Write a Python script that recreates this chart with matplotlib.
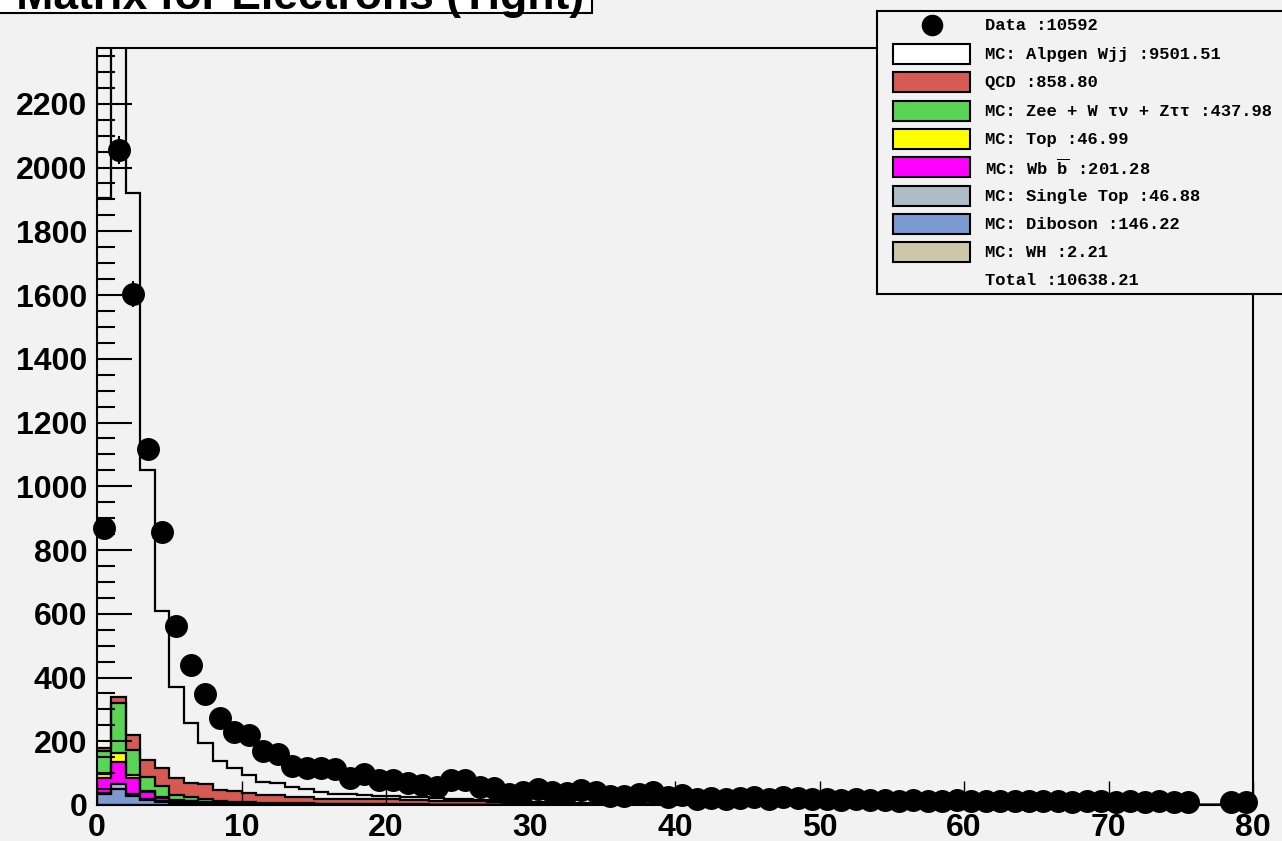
import numpy as np
import matplotlib.pyplot as plt
from matplotlib.patches import Rectangle
from matplotlib.ticker import MultipleLocator

plt.rcParams['font.family'] = ['Liberation Sans', 'DejaVu Sans']
plt.rcParams['font.weight'] = 'bold'
plt.rcParams['mathtext.fontset'] = 'custom'
plt.rcParams['mathtext.rm'] = 'Liberation Mono:bold'

# bin edges 0..80, one unit per bin
edges = np.arange(0, 81)

data = [
    869, 2055, 1603, 1117, 857, 562, 439, 348, 273, 229, 220, 169, 160, 122, 116, 116, 113, 86, 97, 78,
    78, 68, 63, 58, 80, 80, 58, 52, 36, 42, 50, 40, 37, 47, 40, 28, 28, 35, 40, 24,
    32, 18, 22, 20, 22, 25, 18, 25, 22, 18, 20, 16, 18, 15, 16, 14, 15, 14, 13, 15,
    12, 14, 12, 13, 12, 14, 12, 10, 14, 12, 10, 12, 10, 11, 10, 9, 0, 0, 10, 10]

wh = [
    1, 1, 0.5, 0.3, 0.2, 0.1, 0.1, 0, 0, 0, 0, 0, 0, 0, 0, 0, 0, 0, 0, 0,
    0, 0, 0, 0, 0, 0, 0, 0, 0, 0, 0, 0, 0, 0, 0, 0, 0, 0, 0, 0,
    0, 0, 0, 0, 0, 0, 0, 0, 0, 0, 0, 0, 0, 0, 0, 0, 0, 0, 0, 0,
    0, 0, 0, 0, 0, 0, 0, 0, 0, 0, 0, 0, 0, 0, 0, 0, 0, 0, 0, 0]

diboson = [
    33, 49, 28, 15, 10, 7, 5, 4, 3, 3, 2, 2, 2, 1.5, 1.5, 1, 1, 1, 0.8, 0.8,
    0.6, 0.6, 0.5, 0.5, 0.4, 0.4, 0.3, 0.3, 0.3, 0.2, 0.2, 0.2, 0.2, 0.1, 0.1, 0.1, 0.1, 0.1, 0.1, 0.1,
    0, 0, 0, 0, 0, 0, 0, 0, 0, 0, 0, 0, 0, 0, 0, 0, 0, 0, 0, 0,
    0, 0, 0, 0, 0, 0, 0, 0, 0, 0, 0, 0, 0, 0, 0, 0, 0, 0, 0, 0]

single_top = [
    5, 16, 5, 5, 3, 2, 2, 1, 1, 1, 1, 0.5, 0.5, 0.5, 0.4, 0.4, 0.3, 0.3, 0.3, 0.3,
    0.2, 0.2, 0.2, 0.1, 0.1, 0.1, 0.1, 0, 0, 0, 0, 0, 0, 0, 0, 0, 0, 0, 0, 0,
    0, 0, 0, 0, 0, 0, 0, 0, 0, 0, 0, 0, 0, 0, 0, 0, 0, 0, 0, 0,
    0, 0, 0, 0, 0, 0, 0, 0, 0, 0, 0, 0, 0, 0, 0, 0, 0, 0, 0, 0]

wbb = [
    45, 68, 51, 22, 10, 5, 4, 3, 2, 2, 1, 1, 1, 0.8, 0.8, 0.6, 0.5, 0.5, 0.4, 0.4,
    0.3, 0.3, 0.2, 0.2, 0.2, 0.1, 0.1, 0.1, 0, 0, 0, 0, 0, 0, 0, 0, 0, 0, 0, 0,
    0, 0, 0, 0, 0, 0, 0, 0, 0, 0, 0, 0, 0, 0, 0, 0, 0, 0, 0, 0,
    0, 0, 0, 0, 0, 0, 0, 0, 0, 0, 0, 0, 0, 0, 0, 0, 0, 0, 0, 0]

top = [
    13, 28, 10, 3, 2, 1, 1, 1, 0.5, 0.5, 0.5, 0.3, 0.3, 0.2, 0.2, 0.2, 0.2, 0.1, 0.1, 0.1,
    0, 0, 0, 0, 0, 0, 0, 0, 0, 0, 0, 0, 0, 0, 0, 0, 0, 0, 0, 0,
    0, 0, 0, 0, 0, 0, 0, 0, 0, 0, 0, 0, 0, 0, 0, 0, 0, 0, 0, 0,
    0, 0, 0, 0, 0, 0, 0, 0, 0, 0, 0, 0, 0, 0, 0, 0, 0, 0, 0, 0]

zjets = [
    71, 158, 79, 42, 33, 16, 12, 10, 6, 4, 4, 3, 3, 2, 2, 1.5, 1.5, 1.5, 1, 1,
    1, 0.8, 0.8, 0.6, 0.6, 0.5, 0.5, 0.4, 0.4, 0.3, 0.3, 0.3, 0.2, 0.2, 0.2, 0.1, 0.1, 0.1, 0.1, 0.1,
    0, 0, 0, 0, 0, 0, 0, 0, 0, 0, 0, 0, 0, 0, 0, 0, 0, 0, 0, 0,
    0, 0, 0, 0, 0, 0, 0, 0, 0, 0, 0, 0, 0, 0, 0, 0, 0, 0, 0, 0]

qcd = [
    12, 18, 47, 54, 57, 53, 46, 47, 34.5, 34.5, 30.5, 24, 26, 19, 19, 15.3, 15.5, 16.6, 16.4, 17.4,
    16, 13, 13, 10, 10, 12, 10, 10, 6, 6, 5, 5, 4, 4, 3, 3, 3, 2.5, 2.5, 2,
    2, 2, 1.8, 1.6, 1.5, 1.4, 1.3, 1.2, 1.1, 1, 1, 0.9, 0.9, 0.8, 0.8, 0.7, 0.7, 0.6, 0.6, 0.5,
    0.5, 0.5, 0.4, 0.4, 0.4, 0.3, 0.3, 0.3, 0.3, 0.2, 0.2, 0.2, 0.2, 0.2, 0.1, 0.1, 0, 0, 0.1, 0.1]

alpgen = [
    1725, 3042, 1700, 910, 494, 286, 188, 129, 91, 70, 55, 41, 35, 31, 26, 21, 16, 13, 12, 9,
    10, 11, 9, 10, 8, 5, 5, 4, 6, 5, 5, 4, 4, 3, 3, 3, 2, 2, 2, 2,
    1.8, 1.6, 1.5, 1.5, 1.3, 1.2, 1.1, 1, 1, 0.9, 0.9, 0.8, 0.8, 0.7, 0.7, 0.6, 0.6, 0.5, 0.5, 0.5,
    0.4, 0.4, 0.4, 0.3, 0.3, 0.3, 0.3, 0.2, 0.2, 0.2, 0.2, 0.2, 0.1, 0.1, 0.1, 0.1, 0, 0, 0.1, 0.1]

bg = '#f2f2f2'

# stacking order, bottom first (Alpgen is hollow in the pad)
stack = [
    (wh, '#ccc6aa'),
    (diboson, '#7d99d1'),
    (single_top, '#adbcc6'),
    (wbb, '#ff00ff'),
    (top, '#ffff00'),
    (zjets, '#59d454'),
    (qcd, '#d65a52'),
    (alpgen, bg),
]

legend_rows = [
    ('MC: Alpgen Wjj :9501.51', '#ffffff'),
    ('QCD :858.80', '#d65a52'),
    ('MC: Zee + W τν + Zττ :437.98', '#59d454'),
    ('MC: Top :46.99', '#ffff00'),
    (r'MC: Wb $\overline{\mathrm{b}}$ :201.28', '#ff00ff'),
    ('MC: Single Top :46.88', '#adbcc6'),
    ('MC: Diboson :146.22', '#7d99d1'),
    ('MC: WH :2.21', '#ccc6aa'),
]
data_label = 'Data :10592'
total_label = 'Total :10638.21'
title = 'FMatrix for Electrons (Tight)'

W, H = 1282, 841
fig = plt.figure(figsize=(W / 100, H / 100), dpi=100)
fig.patch.set_facecolor(bg)

ax = fig.add_axes([97 / W, 36 / H, 1156 / W, 757 / H])
ax.set_facecolor(bg)

# fills first, then black outlines on top
bottom = np.zeros(len(data))
tops = []
for vals, col in stack:
    t = bottom + np.array(vals, dtype=float)
    ax.stairs(t, edges, baseline=bottom.copy(), fill=True, color=col, lw=0, zorder=2)
    tops.append(t)
    bottom = t
for t in tops:
    ax.stairs(t, edges, baseline=None, color='black', lw=1.6, zorder=3)

# data points with sqrt(N) errors, empty bins skipped
d = np.array(data, dtype=float)
centers = 0.5 * (edges[:-1] + edges[1:])
m = d > 0
ax.errorbar(centers[m], d[m], yerr=np.sqrt(d[m]), fmt='o', color='black',
            ms=15.5, elinewidth=1.5, capsize=0, zorder=6, clip_on=False)

ax.set_xlim(0, 80)
ax.set_ylim(0, 2375)
ax.set_yticks(np.arange(0, 2201, 200))
ax.yaxis.set_minor_locator(MultipleLocator(50))
ax.set_xticks(np.arange(0, 81, 10))
ax.tick_params(axis='y', which='major', direction='in', length=25, width=1.5,
               labelsize=23, pad=7, right=False)
ax.tick_params(axis='y', which='minor', direction='in', length=13, width=1.5, right=False)
ax.tick_params(axis='x', which='major', direction='in', length=17, width=1,
               labelsize=23, pad=6, top=False)
for lbl in ax.get_xticklabels() + ax.get_yticklabels():
    lbl.set_fontweight('bold')
ax.xaxis.set_zorder(4)
ax.yaxis.set_zorder(4)
for s in ax.spines.values():
    s.set_linewidth(1.5)
    s.set_zorder(4)

# title box, cut at the top edge like the original
fig.add_artist(Rectangle((-10 / W, 1 - 13 / H), 602 / W, 30 / H, transform=fig.transFigure,
                         facecolor='white', edgecolor='black', lw=1.5, zorder=10))
fig.text(584 / W, 1 - 9 / H, title, ha='right', va='baseline', fontsize=32,
         fontweight='bold', zorder=11)

# legend, drawn in pixel units
lax = fig.add_axes([877 / W, (H - 294) / H, (1300 - 877) / W, 283 / H], zorder=20)
lax.set_xlim(877, 1300)
lax.set_ylim(294, 11)
lax.set_facecolor(bg)
lax.set_xticks([])
lax.set_yticks([])
for s in lax.spines.values():
    s.set_linewidth(1.5)

lfont = dict(family='Liberation Mono', weight='bold', fontsize=12.3)
lax.plot([931.5], [25], 'o', color='black', ms=14.5)
lax.text(985, 30, data_label, va='baseline', **lfont)
for i, (lab, col) in enumerate(legend_rows):
    y0 = 44 + i * 28.3
    lax.add_patch(Rectangle((893, y0), 77, 20, facecolor=col, edgecolor='black', lw=1.5))
    yb = y0 + 15 + (3 if i == 4 else 0)
    lax.text(985, yb, lab, va='baseline', **lfont)
lax.text(985, 285, total_label, va='baseline', **lfont)

fig.savefig('out.png', dpi=100, facecolor=bg)
